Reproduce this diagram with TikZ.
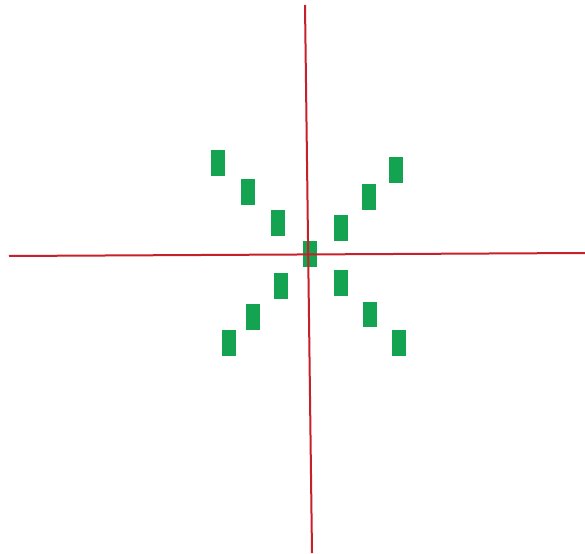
\documentclass[tikz,border=0pt]{standalone}
\begin{document}
\begin{tikzpicture}[x=1pt,y=-1pt,
  mark box/.style={rectangle,draw=none,fill=markgreen,minimum width=14.5pt,minimum height=25.5pt,inner sep=0pt},
  axisline/.style={draw=axisred,line width=2pt}]
\definecolor{markgreen}{RGB}{20,163,80}
\definecolor{axisred}{RGB}{198,32,42}
\useasboundingbox (0,0) rectangle (585,553);
\node[mark box] (ul1) at (218,163) {};
\node[mark box] (ul2) at (248,192) {};
\node[mark box] (ul3) at (278,223) {};
\node[mark box] (c) at (310,254) {};
\node[mark box] (ur1) at (396,170) {};
\node[mark box] (ur2) at (369,197) {};
\node[mark box] (ur3) at (341,228) {};
\node[mark box] (ll1) at (281,286) {};
\node[mark box] (ll2) at (253,317) {};
\node[mark box] (ll3) at (229,343) {};
\node[mark box] (lr1) at (341,283) {};
\node[mark box] (lr2) at (370,314.5) {};
\node[mark box] (lr3) at (399,343) {};
\coordinate (vt) at (305,5);
\coordinate (vb) at (312,553);
\coordinate (hl) at (9,256);
\coordinate (hr) at (585,253);
\draw[axisline] (vt) -- (vb);
\draw[axisline] (hl) -- (hr);
\end{tikzpicture}
\end{document}
